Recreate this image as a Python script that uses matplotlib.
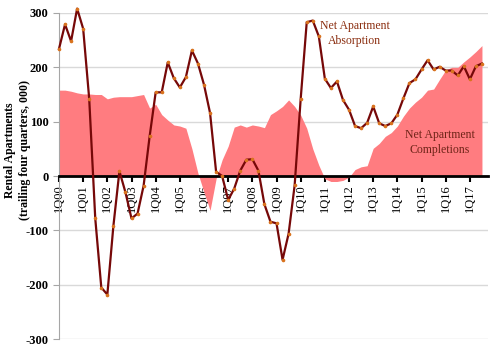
import matplotlib
matplotlib.use("Agg")
import matplotlib.pyplot as plt
import numpy as np

# quarterly values, 1Q00 .. 3Q17 (thousands, trailing four quarters)
absorption = [234, 279, 248, 308, 271, 142, -78, -205, -218, -92,
              9, -30, -78, -69, -18, 73, 154, 154, 209, 180,
              163, 182, 231, 207, 168, 116, 8, 0, -44, -23,
              10, 30, 31, 10, -52, -84, -87, -154, -106, -17,
              142, 283, 286, 257, 179, 162, 174, 140, 122, 92,
              88, 98, 128, 97, 92, 97, 113, 143, 171, 178,
              196, 213, 196, 201, 194, 194, 185, 202, 178, 202,
              207]
completions = [158, 158, 156, 153, 151, 151, 150, 150, 142, 145,
               146, 146, 146, 148, 150, 125, 132, 113, 103, 94,
               92, 88, 50, 5, -30, -63, -5, 30, 55, 90,
               94, 90, 94, 92, 89, 113, 120, 128, 140, 128,
               112, 88, 50, 20, -5, -10, -10, -8, -2, 12,
               17, 19, 51, 60, 73, 80, 92, 110, 125, 136,
               145, 158, 160, 178, 195, 200, 200, 210, 219, 229,
               240]
year_labels = ['1Q00', '1Q01', '1Q02', '1Q03', '1Q04', '1Q05', '1Q06',
               '1Q07', '1Q08', '1Q09', '1Q10', '1Q11', '1Q12', '1Q13',
               '1Q14', '1Q15', '1Q16', '1Q17']
y_ticks = [-300, -200, -100, 0, 100, 200, 300]

plt.rcParams['font.family'] = ['Liberation Serif', 'DejaVu Serif']

x = np.arange(len(absorption))

fig = plt.figure(figsize=(5, 3.5), dpi=100)
ax = fig.add_axes([0.118, 0.031, 0.858, 0.932])

# zero line carries the category ticks; set before tick labels (it resets ticks)
ax.spines['bottom'].set_position(('data', 0))
ax.spines['bottom'].set_linewidth(2)
ax.spines['bottom'].set_zorder(3)
ax.spines['top'].set_visible(False)
ax.spines['right'].set_visible(False)
ax.spines['left'].set_color('#a6a6a6')

ax.fill_between(x, completions, 0, color='#ff7c80', lw=0, zorder=2)
ax.plot(x, absorption, color='#760808', lw=1.6, marker='o', ms=1.6,
        mfc='#d9731e', mec='#d9731e', zorder=4, clip_on=False)

ax.set_xlim(0, 71)
ax.set_ylim(-300, 300)
ax.set_yticks(y_ticks)
ax.set_yticklabels([str(v) for v in y_ticks], fontsize=9, fontweight='bold')
ax.set_xticks(np.arange(0, len(absorption), 4))
ax.set_xticklabels(year_labels, fontsize=9)
ax.tick_params(axis='x', colors='black', length=4, width=1.5, pad=2,
               labelrotation=90)
ax.tick_params(axis='y', colors='#a6a6a6', labelcolor='black', length=4)

ax.yaxis.grid(True, color='#d9d9d9', lw=1)
ax.set_axisbelow(True)

ax.set_ylabel('Rental Apartments\n(trailing four quarters, 000)',
              fontsize=8.5, fontweight='bold', linespacing=1.25)
ax.yaxis.set_label_coords(-0.066, 0.58)

ax.text(48.9, 262, 'Net Apartment\nAbsorption', ha='center', va='center',
        fontsize=8.5, color='#8b2e10', linespacing=1.3, zorder=5)
ax.text(63, 62, 'Net Apartment\nCompletions', ha='center', va='center',
        fontsize=8.5, color='#6e2418', linespacing=1.3, zorder=5)

fig.savefig('out.png', dpi=100)
